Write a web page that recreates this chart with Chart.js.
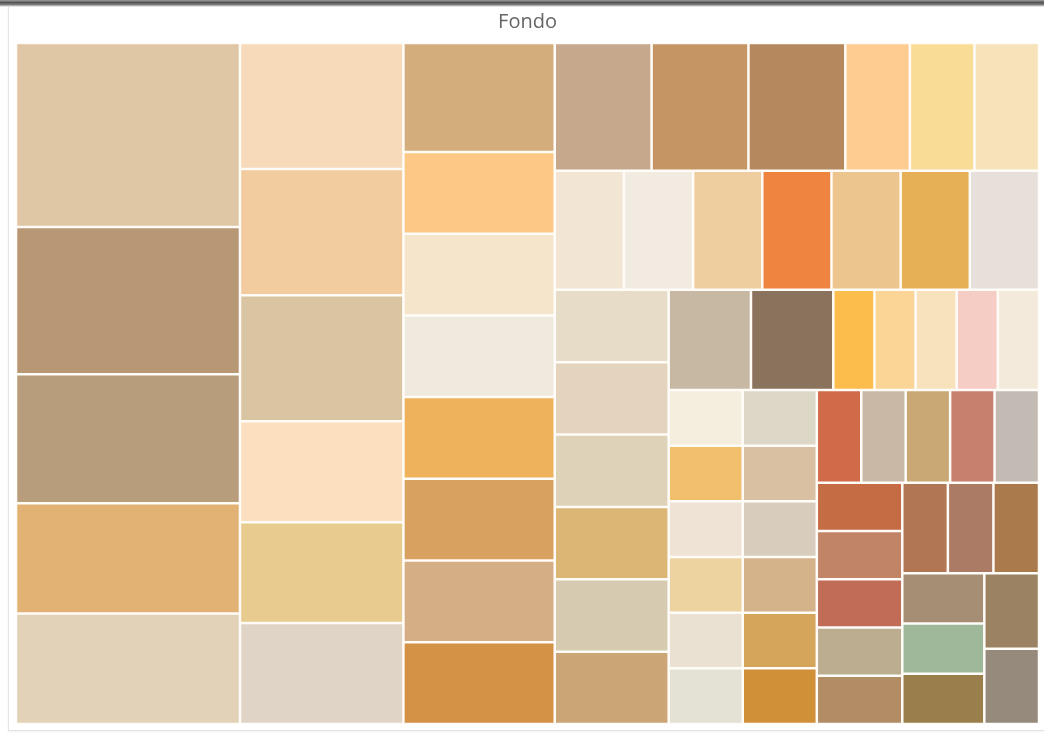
<!DOCTYPE html>
<html>
<head>
<meta charset="utf-8">
<title>Fondo</title>
<script src="https://cdn.jsdelivr.net/npm/chart.js@4/dist/chart.umd.min.js"></script>
<style>
    html, body { margin: 0; padding: 0; background: #fff; }
    body { width: 1044px; height: 735px; position: relative; overflow: hidden; }
    .topbar {
        position: absolute; left: 0; top: 0; width: 1044px; height: 7px;
        background: linear-gradient(#a0a0a0, #555 35%, #7a7a7a 65%, #fff);
    }
    .frame {
        position: absolute; left: 8px; top: 6px; width: 1040px; height: 725px;
        border: 1px solid #e3e3e3; box-sizing: border-box;
        box-shadow: 0 1px 2px rgba(0,0,0,0.06);
    }
    #wrap { position: absolute; left: 0; top: 0; width: 1044px; height: 735px; }
</style>
</head>
<body>
<div class="topbar"></div>
<div class="frame"></div>
<div id="wrap"><canvas id="treemap"></canvas></div>
<script>
    // ── Data ───────────────────────────────────
    // counts per background, largest first
    const values = [
        10, 8, 7, 6, 6,
        5, 5, 5, 4, 4, 4,
        4, 3, 3, 3, 3, 3, 3, 3,
        3, 3, 3, 2, 2, 2,
        2, 2, 2, 2, 2, 2, 2,
        2, 2, 2, 2, 2, 2,
        2, 2, 1, 1, 1, 1, 1,
        1, 1, 1, 1, 1, 1,
        1, 1, 1, 1, 1, 1,
        1, 1, 1, 1, 1,
        1, 1, 1, 1, 1,
        1, 1, 1,
        1, 1, 1,
        1, 1
    ];
    const categories = values.map((_, i) => 'Fondo ' + (i + 1));

    // how many cells go in each strip and which way the strip runs
    const stripSizes = [5, 6, 8, 6, 7, 6, 7, 6, 6, 5, 5, 3, 3, 2];
    const stripDirs  = ['col', 'col', 'col', 'row', 'row', 'col', 'row', 'col', 'col', 'row', 'col', 'row', 'col', 'col'];

    const colors = [
        '#dfc6a4', '#b89775', '#b79d7b', '#e2b274', '#e1d2b8',
        '#f6dab9', '#f2cb9e', '#dac5a2', '#fbdfbe', '#e8cb8f', '#e0d4c6',
        '#d3ad7c', '#fdc886', '#f5e5cb', '#efe9de', '#eeb25d', '#d9a15f', '#d5ae86', '#d39245',
        '#c6a98c', '#c59563', '#b5885e', '#fecb90', '#f9dd97', '#f7e3ba',
        '#f3e5d3', '#f2ebe2', '#eecd9e', '#ee8440', '#ecc58e', '#e6b057', '#e6dfda',
        '#e6dcc7', '#e4d3bd', '#ded3b8', '#dbb674', '#d6cbb1', '#cca577',
        '#c7b8a3', '#8a725d', '#fdbd4d', '#fad596', '#f7e2bb', '#f5cdc4', '#f4eadb',
        '#f5eedf', '#f2bf6c', '#eee3d5', '#ecd3a0', '#eae1d3', '#e4e1d5',
        '#ddd7c8', '#dac0a2', '#d8cdbd', '#d5b38a', '#d4a55a', '#d09037',
        '#d06a48', '#c9b8a6', '#c9a874', '#c6806d', '#c3bbb3',
        '#c66c45', '#c28467', '#c06c57', '#bcad91', '#b18c65',
        '#b17654', '#ab7b66', '#aa7a4d',
        '#a58e74', '#9fb89a', '#9a7f4d',
        '#9a8263', '#958a7b'
    ];

    // ── Strip layout ───────────────────────────
    // fills a w x h box strip by strip, cell area proportional to value
    function stripLayout(vals, sizes, dirs, w, h) {
        const total = vals.reduce((a, b) => a + b, 0);
        const k = (w * h) / total;
        let x = 0, y = 0, rw = w, rh = h, i = 0;
        const cells = [];
        sizes.forEach((n, s) => {
            const group = vals.slice(i, i + n);
            const sum = group.reduce((a, b) => a + b, 0);
            if (dirs[s] === 'col') {
                const cw = sum * k / rh;
                let cy = y;
                group.forEach(v => {
                    const ch = v * k / cw;
                    cells.push({ x0: x, x1: x + cw, y0: cy, y1: cy + ch });
                    cy += ch;
                });
                x += cw; rw -= cw;
            } else {
                const ch = sum * k / rw;
                let cx = x;
                group.forEach(v => {
                    const cw = v * k / ch;
                    cells.push({ x0: cx, x1: cx + cw, y0: y, y1: y + ch });
                    cx += cw;
                });
                y += ch; rh -= ch;
            }
            i += n;
        });
        return cells;
    }

    // ── Treemap controller (cells are bar elements) ──
    class StripTreemapController extends Chart.DatasetController {
        update(mode) {
            const meta = this._cachedMeta;
            this.updateElements(meta.data, 0, meta.data.length, mode);
        }

        updateElements(rects, start, count, mode) {
            const meta = this._cachedMeta;
            const xScale = meta.xScale, yScale = meta.yScale;
            const area = this.chart.chartArea;
            const w = area.right - area.left, h = area.bottom - area.top;
            const cells = stripLayout(this.getDataset().data, stripSizes, stripDirs, w, h);

            for (let i = start; i < start + count; i++) {
                const c = cells[i];
                // layout is in box units, scales are 0..100
                const left   = xScale.getPixelForValue(c.x0 / w * 100);
                const right  = xScale.getPixelForValue(c.x1 / w * 100);
                const top    = yScale.getPixelForValue(c.y0 / h * 100);
                const bottom = yScale.getPixelForValue(c.y1 / h * 100);
                this.updateElement(rects[i], i, {
                    x: (left + right) / 2,
                    y: top,
                    base: bottom,
                    width: right - left,
                    horizontal: false,
                    inflateAmount: 0,
                    enableBorderRadius: false,
                    borderSkipped: { top: false, right: false, bottom: false, left: false },
                    options: this.resolveDataElementOptions(i, mode)
                }, mode);
            }
        }

        getLabelAndValue(index) {
            return { label: categories[index], value: String(values[index]) };
        }
    }
    StripTreemapController.id = 'stripTreemap';
    StripTreemapController.defaults = { dataElementType: 'bar', datasetElementType: false };
    StripTreemapController.overrides = {
        scales: {
            x: { type: 'linear', display: false, min: 0, max: 100 },
            y: { type: 'linear', display: false, min: 0, max: 100, reverse: true }
        }
    };
    Chart.register(StripTreemapController);

    // ── Chart ──────────────────────────────────
    new Chart(document.getElementById('treemap').getContext('2d'), {
        type: 'stripTreemap',
        data: {
            datasets: [{
                label: 'Fondo',
                data: values,
                backgroundColor: colors,
                borderColor: '#fffbf6',
                borderWidth: 1.25
            }]
        },
        options: {
            responsive: true,
            maintainAspectRatio: false,
            animation: false,
            layout: { padding: { left: 16, right: 5, top: 4, bottom: 11 } },
            scales: {
                x: { type: 'linear', display: false, min: 0, max: 100 },
                y: { type: 'linear', display: false, min: 0, max: 100, reverse: true }
            },
            plugins: {
                legend: { display: false },
                title: {
                    display: true,
                    text: 'Fondo',
                    color: '#666',
                    font: { family: "'Segoe UI', 'Open Sans', sans-serif", size: 20, weight: 'normal', lineHeight: 1.2 },
                    padding: { top: 6, bottom: 9 }
                },
                tooltip: {
                    callbacks: {
                        title: items => categories[items[0].dataIndex],
                        label: item => ' ' + values[item.dataIndex]
                    }
                }
            }
        }
    });
</script>
</body>
</html>
